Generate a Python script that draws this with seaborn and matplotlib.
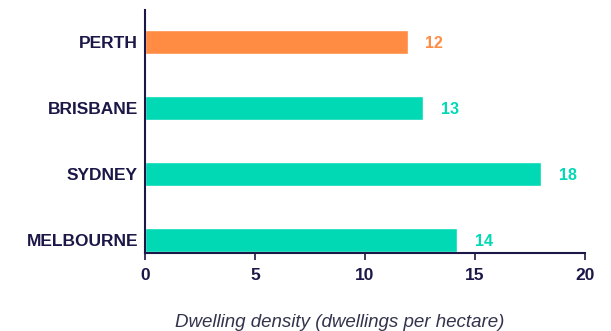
import matplotlib
matplotlib.use("Agg")
import matplotlib.pyplot as plt
import seaborn as sns
import pandas as pd

cities = ["PERTH", "BRISBANE", "SYDNEY", "MELBOURNE"]
density = [11.95, 12.65, 18.0, 14.2]
labels = ["12", "13", "18", "14"]
bar_colors = ["#FF8C42", "#00D9B4", "#00D9B4", "#00D9B4"]
xticks = [0, 5, 10, 15, 20]

navy = "#1B1747"

sns.set_theme(style="white")
plt.rcParams["font.family"] = ["Liberation Sans", "DejaVu Sans"]

df = pd.DataFrame({"city": cities, "density": density})

fig = plt.figure(figsize=(6.11, 3.31), dpi=100)
ax = fig.add_axes([145 / 611, 78 / 331, 440 / 611, 243 / 331])

sns.barplot(data=df, y="city", x="density", hue="city", palette=bar_colors,
            order=cities, hue_order=cities, width=0.37, legend=False,
            saturation=1, ax=ax)

for i, (v, lab, c) in enumerate(zip(density, labels, bar_colors)):
    ax.text(v + 0.8, i + 0.02, lab, color=c, fontsize=11.5, fontweight="bold",
            va="center", ha="left")

ax.set_xlim(0, 20)
ax.set_ylim(3.2, -0.49)
ax.set_xticks(xticks)
ax.set_xticklabels([str(t) for t in xticks])
ax.tick_params(axis="x", colors=navy, labelsize=12.5, length=5, width=1.2,
               direction="out", pad=6, bottom=True)
ax.tick_params(axis="y", colors=navy, labelsize=12.5, length=0, pad=5)
for lab in ax.get_xticklabels() + ax.get_yticklabels():
    lab.set_fontweight("bold")
    lab.set_color(navy)

for s in ["top", "right"]:
    ax.spines[s].set_visible(False)
for s in ["left", "bottom"]:
    ax.spines[s].set_color(navy)
    ax.spines[s].set_linewidth(1.5)

ax.set_ylabel("")
ax.set_xlabel("Dwelling density (dwellings per hectare)", fontsize=13.5,
              fontstyle="italic", color="#33334D")
ax.xaxis.set_label_coords(0.443, -0.25)

fig.savefig("out.png", dpi=100)
